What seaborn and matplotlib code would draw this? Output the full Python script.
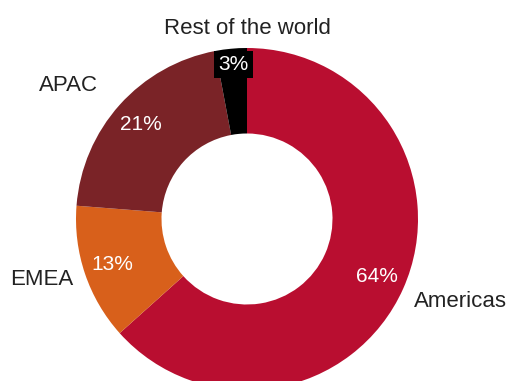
import matplotlib
matplotlib.use("Agg")
import matplotlib.pyplot as plt
import seaborn as sns
import numpy as np

sns.set_theme(style="white")
plt.rcParams['font.family'] = ['Liberation Sans', 'DejaVu Sans']

regions = ["Americas", "EMEA", "APAC", "Rest of the world"]
shares = [64, 13, 21, 3]
colors = ["#B90E30", "#D8601B", "#7A2327", "#000000"]

fig = plt.figure(figsize=(5.09, 3.81), dpi=100)
ax = fig.add_axes([0, 0, 1, 1])

wedges, _ = ax.pie(shares, colors=colors, startangle=90, counterclock=False,
                   radius=1.0, wedgeprops=dict(width=0.5, edgecolor="none"))

total = sum(shares)
cum = 0
# label placement tweaks (radius, ha, vertical nudge) per region
out_cfg = {
    "Americas": (1.07, "left", -0.045),
    "EMEA": (1.07, "right", -0.01),
    "APAC": (1.17, "right", 0.0),
    "Rest of the world": (1.12, "center", 0.0),
}
pct_r = 0.83
lab_size = 16
pct_size = 15
for name, v in zip(regions, shares):
    mid = (cum + v / 2) / total * 360.0
    cum += v
    th = np.deg2rad(90 - mid)
    x, y = np.cos(th), np.sin(th)
    r, ha, dy = out_cfg[name]
    if name == "Rest of the world":
        ax.text(0, 1.115, name, ha="center", va="center", fontsize=lab_size, color="#222222")
        ax.text(pct_r * x, 0.905, f"{v}%", ha="center", va="center", fontsize=pct_size,
                color="white",
                bbox=dict(boxstyle="square,pad=0.2", fc="black", ec="none"))
    else:
        ax.text(r * x, r * y + dy, name, ha=ha, va="center", fontsize=lab_size, color="#222222")
        ax.text(pct_r * x, pct_r * y, f"{v}%", ha="center", va="center", fontsize=pct_size,
                color="white")

ax.set_xlim(-247 / 171, (509 - 247) / 171)
ax.set_ylim(-(381 - 219) / 171, 219 / 171)
ax.set_aspect("auto")
ax.axis("off")
fig.savefig("out.png", dpi=100)
